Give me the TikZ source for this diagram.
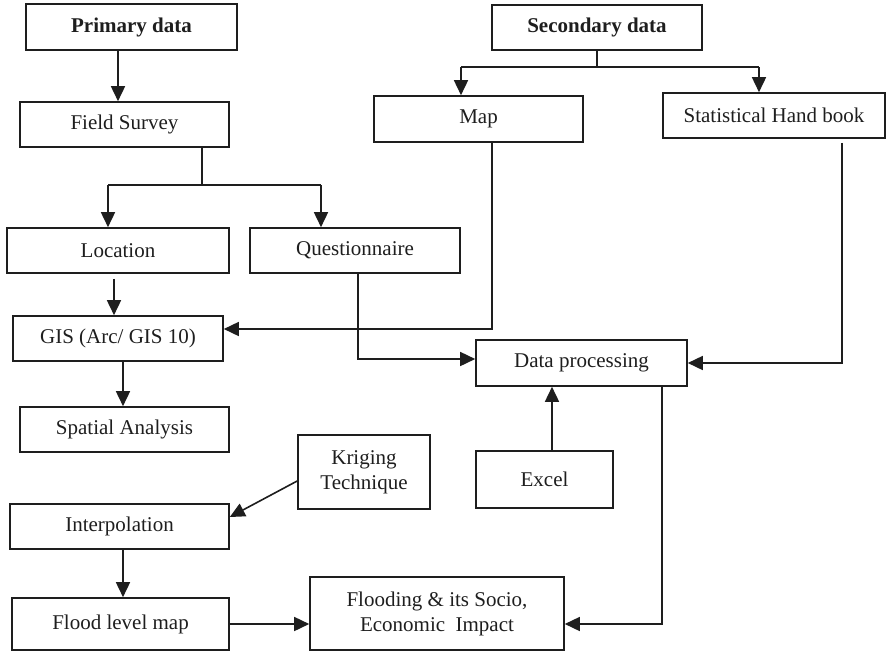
\documentclass[tikz,border=0pt]{standalone}
\usepackage{fontspec}
\setmainfont{Liberation Serif}
\usepackage{xcolor}
\usetikzlibrary{arrows.meta,positioning,calc}
\definecolor{ink}{HTML}{1E1E1E}
\tikzset{
  box/.style={draw=ink, line width=1.6pt, text=ink, align=center, inner sep=2pt},
  link/.style={draw=ink, line width=1.6pt},
  arr/.style={link, -{Triangle[length=15pt,width=14pt]}}
}

\begin{document}
\begin{tikzpicture}[x=1pt, y=-1pt, font=\fontsize{21}{25}\selectfont]
  \useasboundingbox (0,0) rectangle (887,654);

  % primary side
  \node[box, minimum width=211pt, minimum height=46pt] (prim) at (131.5,27) {\textbf{Primary data}};
  \node[box, minimum width=209pt, minimum height=45pt] (field) at (124.5,124.5) {Field Survey};
  \node[box, minimum width=222pt, minimum height=45pt] (loc) at (118,250.5) {Location};
  \node[box, minimum width=210pt, minimum height=45pt] (quest) at (355,250.5) {Questionnaire};
  \node[box, minimum width=210pt, minimum height=45pt] (gis) at (118,338.5) {GIS (Arc/ GIS 10)};
  \node[box, minimum width=209pt, minimum height=45pt] (spat) at (124.5,429.5) {Spatial Analysis};
  \node[box, minimum width=132pt, minimum height=74pt] (krig) at (364,472) {Kriging\\Technique};
  \node[box, minimum width=219pt, minimum height=45pt] (interp) at (119.5,526.5) {Interpolation};
  \node[box, minimum width=217pt, minimum height=52pt] (flood) at (120.5,624) {Flood level map};
  \node[box, minimum width=254pt, minimum height=73pt] (impact) at (437,613.5)
    {Flooding \& its Socio,\\Economic~~Impact};

  % secondary side
  \node[box, minimum width=210pt, minimum height=45pt] (sec) at (597,27.5) {\textbf{Secondary data}};
  \node[box, minimum width=209pt, minimum height=46pt] (map) at (478.5,119) {Map};
  \node[box, minimum width=222pt, minimum height=45pt] (stat) at (774,115.5) {Statistical Hand book};
  \node[box, minimum width=211pt, minimum height=46pt] (proc) at (581.5,363) {Data processing};
  \node[box, minimum width=137pt, minimum height=57pt] (excel) at (544.5,479.5) {Excel};

  % split points
  \coordinate (fsL) at (108,185);
  \coordinate (fsR) at (321,185);
  \coordinate (ssL) at (461,67);
  \coordinate (ssR) at (759,67);

  % primary links
  \draw[arr] (prim.south -| gis) -- (gis |- field.north);
  \draw[link] ([xshift=77.5pt]field.south) -- ([xshift=77.5pt]field.south |- fsL);
  \draw[link] (fsL) -- (fsR);
  \draw[arr] (fsL) -- (fsL |- loc.north);
  \draw[arr] (fsR) -- (fsR |- quest.north);
  \draw[arr] ([xshift=-4pt,yshift=-5pt]loc.south) -- ([xshift=-4pt]gis.north);
  \draw[arr] ([xshift=5pt]gis.south) -- ([xshift=5pt]gis.south |- spat.north);
  \draw[arr] ([yshift=-9pt]krig.west) -- ([yshift=9.5pt]interp.east);
  \draw[arr] ([xshift=3.5pt]interp.south) -- ([xshift=3.5pt]interp.south |- flood.north);
  \draw[arr] (flood.east) -- (flood.east -| impact.west);

  % secondary links
  \draw[link] (sec.south) -- (sec.south |- ssL);
  \draw[link] (ssL) -- (ssR);
  \draw[arr] (ssL) -- (ssL |- map.north);
  \draw[arr] (ssR) -- (ssR |- stat.north);
  \draw[arr] ([xshift=13.5pt]map.south) |- ([yshift=9.5pt]gis.east);
  \draw[arr] ([xshift=3pt]quest.south) |- ([yshift=4pt]proc.west);
  \draw[arr] ([xshift=68pt,yshift=-4pt]stat.south) |- (proc.east);
  \draw[arr] ([xshift=7.5pt]excel.north) -- ([xshift=7.5pt]excel.north |- proc.south);
  \draw[arr] ([xshift=80.5pt]proc.south) |- ([yshift=-10.5pt]impact.east);
\end{tikzpicture}
\end{document}
